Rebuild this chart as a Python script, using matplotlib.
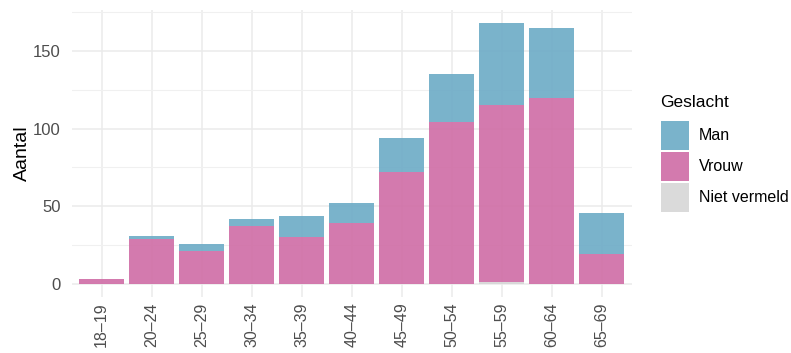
import matplotlib
matplotlib.use("Agg")
import matplotlib.pyplot as plt
from matplotlib.patches import Rectangle
import numpy as np

plt.rcParams["font.family"] = ["Liberation Sans", "DejaVu Sans"]

# Data
categories = ["18–19", "20–24", "25–29", "30–34", "35–39", "40–44",
              "45–49", "50–54", "55–59", "60–64", "65–69"]
niet_vermeld = [0, 0, 0, 0, 0, 0, 0, 0, 1, 0, 0]
vrouw = [3, 29, 21, 37, 30, 39, 72, 104, 114, 120, 19]
man = [0, 2, 5, 5, 14, 13, 22, 31, 53, 45, 27]

legend_labels = ["Man", "Vrouw", "Niet vermeld"]
legend_title = "Geslacht"
y_label = "Aantal"

COL_MAN = "#6CABC6"
COL_VROUW = "#CF6CA5"
COL_NIET = "#D6D6D6"
ALPHA = 0.9
TEXT = "#4D4D4D"
GRID = "#EBEBEB"

W, H = 791, 353
fig = plt.figure(figsize=(W / 100, H / 100), dpi=100)
ax = fig.add_axes([71.7 / W, 1 - 297 / H, (631.7 - 71.7) / W, (297 - 10) / H])

x = np.arange(len(categories))
nv = np.array(niet_vermeld)
vr = np.array(vrouw)
mn = np.array(man)

ax.bar(x, nv, width=0.9, color=COL_NIET, alpha=ALPHA, zorder=2, linewidth=0)
ax.bar(x, vr, width=0.9, bottom=nv, color=COL_VROUW, alpha=ALPHA, zorder=2, linewidth=0)
ax.bar(x, mn, width=0.9, bottom=nv + vr, color=COL_MAN, alpha=ALPHA, zorder=2, linewidth=0)

top = (nv + vr + mn).max()
ax.set_ylim(-0.05 * top, 1.05 * top)
ax.set_xlim(-0.6, len(categories) - 0.4)

ax.set_yticks([0, 50, 100, 150])
ax.set_yticks([25, 75, 125, 175], minor=True)
ax.set_xticks(x)
ax.set_xticklabels(categories, rotation=90, fontsize=11.5, color=TEXT)
ax.tick_params(axis="y", labelsize=12, labelcolor=TEXT, length=0, pad=8)
ax.tick_params(axis="x", length=0, pad=4)
ax.tick_params(which="minor", length=0)

ax.grid(True, which="major", color=GRID, linewidth=1.1, zorder=0)
ax.grid(True, which="minor", axis="y", color="#F0F0F0", linewidth=0.8, zorder=0)
ax.set_axisbelow(True)
for s in ax.spines.values():
    s.set_visible(False)

ax.set_ylabel(y_label, fontsize=14, color="black", labelpad=1)

# Legend, drawn in figure pixels to the right of the panel
fig.text(660 / W, 1 - 103 / H, legend_title, fontsize=12.5, color="black",
         ha="left", va="center")
key_cols = [COL_MAN, COL_VROUW, COL_NIET]
key_tops = [121, 152, 183]
for lab, col, kt in zip(legend_labels, key_cols, key_tops):
    fig.patches.append(Rectangle((661 / W, 1 - (kt + 28.5) / H), 28 / W, 28.5 / H,
                                 transform=fig.transFigure, facecolor=col,
                                 alpha=ALPHA, linewidth=0))
    fig.text(699 / W, 1 - (kt + 14.5) / H, lab, fontsize=11.5, color="black",
             ha="left", va="center")

fig.savefig("out.png", dpi=100, facecolor="white")
